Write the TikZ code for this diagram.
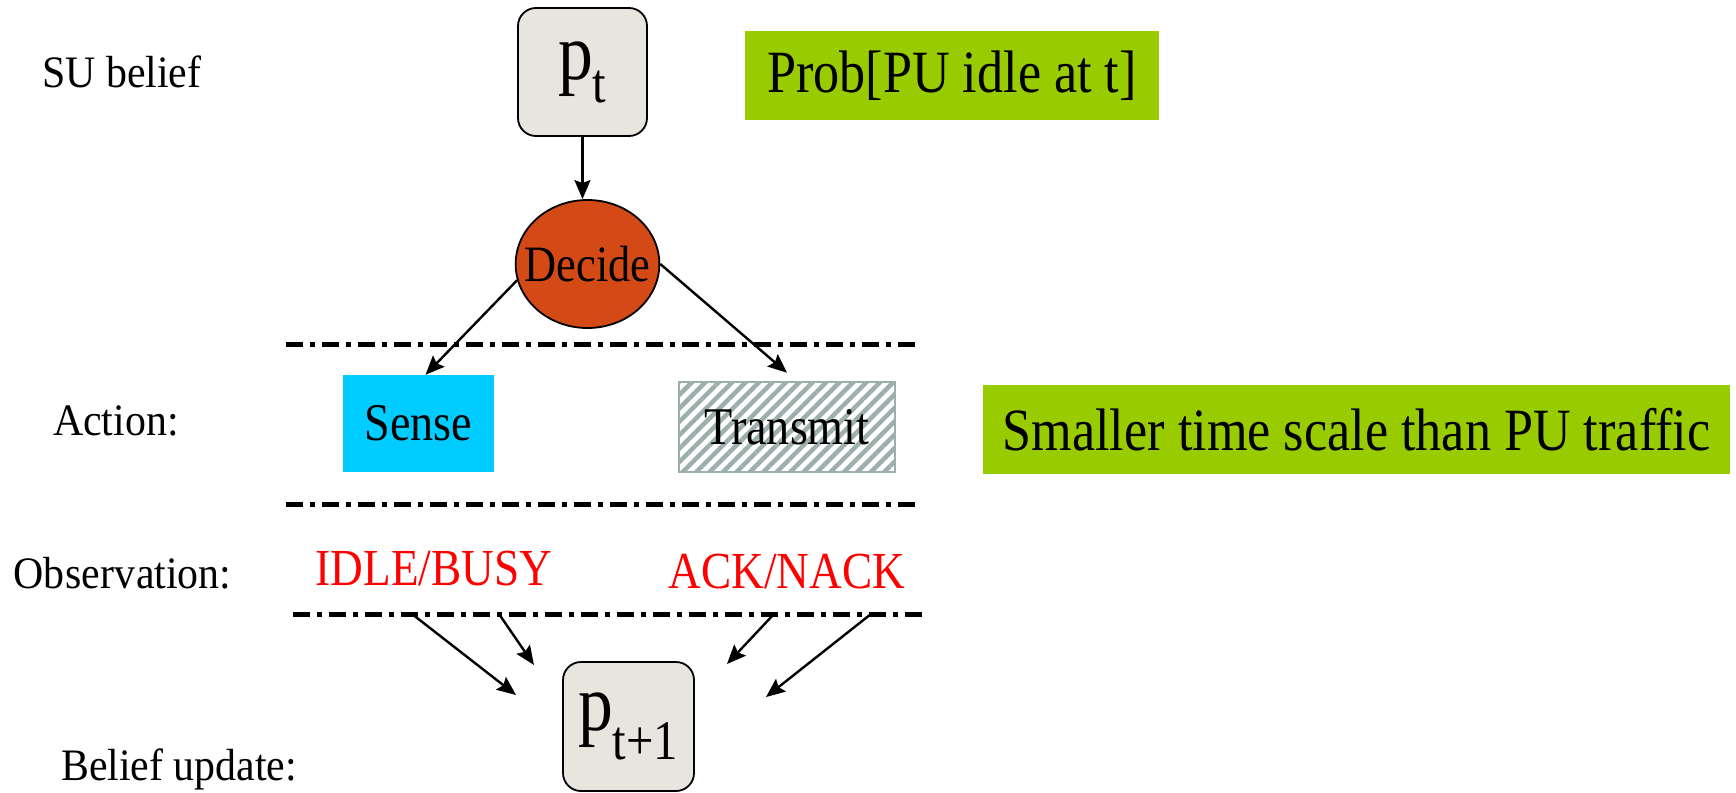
\documentclass[tikz,border=0pt]{standalone}
\usepackage{fontspec}
\setmainfont{Liberation Serif}[FakeStretch=0.87]
\newfontfamily\rowfont{Liberation Serif}[FakeStretch=0.93]
\usetikzlibrary{shapes.geometric,arrows.meta,patterns.meta}

\definecolor{beliefgray}{HTML}{E8E4DE}
\definecolor{decidered}{HTML}{D34A17}
\definecolor{sensecyan}{HTML}{00CCFF}
\definecolor{notegreen}{HTML}{99CC00}
\definecolor{stripegray}{HTML}{9CAFAC}

\tikzset{
  belief/.style={draw, line width=1.8pt, rounded corners=18pt, fill=beliefgray,
    minimum width=129pt, minimum height=128pt, inner sep=0pt, font=\fontsize{80}{80}\selectfont},
  note/.style={fill=notegreen, inner sep=0pt, minimum height=89pt, font=\fontsize{60}{60}\selectfont},
  rowlabel/.style={anchor=base west, inner sep=0pt, font=\rowfont\fontsize{45}{45}\selectfont},
  obs/.style={text=red, inner sep=0pt, font=\fontsize{52}{52}\selectfont},
  action/.style={inner sep=0pt, font=\fontsize{53}{53}\selectfont},
  sepline/.style={line width=5pt, dash pattern=on 17pt off 7pt on 5pt off 7pt},
  arr/.style={-{Stealth[length=19pt,width=16pt,inset=3pt]}, line width=2.4pt}
}

\begin{document}
\begin{tikzpicture}[x=1pt,y=-1pt]
\useasboundingbox (0,0) rectangle (1736,792);
% row labels
\node[rowlabel] (lsu) at (42,88) {SU belief};
\node[rowlabel] (lact) at (53,435) {Action:};
\node[rowlabel] (lobs) at (13,588) {Ob\kern1pt serv\kern1pt ation:};
\node[rowlabel] (lupd) at (61,780) {Belief update:};
% belief and decision
\node[belief] (pt) at (582.5,72) {p\textsubscript{t}};
\node[note, minimum width=414pt] (prob) at (952,75.5) {Prob[PU idle at t]};
\node[ellipse, draw, line width=1.8pt, fill=decidered, minimum width=141pt, minimum height=128pt,
  inner sep=0pt, inner xsep=-12pt, font=\fontsize{51}{51}\selectfont] (decide) at (587.5,264) {Decide};
% actions
\node[action, fill=sensecyan, minimum width=151pt, minimum height=97pt] (sense) at (418.5,423.5) {Sense};
\node[action, draw=stripegray, line width=2pt, pattern={Lines[angle=45,distance=9.5pt,line width=4.5pt]},
  pattern color=stripegray, minimum width=216pt, minimum height=90pt] (transmit) at (787,427) {Transmit};
\node[note, minimum width=747pt] (timescale) at (1356.5,429.5) {Smaller time scale than PU traffic};
% observations
\node[obs] (idle) at (434,569) {IDLE/BUSY};
\node[obs] (ack) at (787,572) {ACK/NACK};
\node[belief, minimum width=131pt, minimum height=129pt] (pt1) at (628.5,726.5) {p\textsubscript{t+1}};
% separators
\foreach \y/\xa/\xb in {344/286/919, 504/286/919, 614/293/924}
  \draw[sepline] (\xa,\y) -- (\xb,\y);
% arrows
\draw[arr] (pt.south) -- (pt.south |- decide.north);
\draw[arr] (decide.193) -- ([xshift=7pt]sense.north);
\draw[arr] (decide.east) -- ([yshift=7pt]transmit.north);
\coordinate (o1) at (412,614);
\coordinate (o2) at (499,614);
\coordinate (o3) at (774,614);
\coordinate (o4) at (871,614);
\coordinate (u1) at (516,695);
\coordinate (u2) at (534,665);
\coordinate (u3) at (727,664);
\coordinate (u4) at (766,697);
\draw[arr] (o1) -- (u1);
\draw[arr] (o2) -- (u2);
\draw[arr] (o3) -- (u3);
\draw[arr] (o4) -- (u4);
\end{tikzpicture}
\end{document}
